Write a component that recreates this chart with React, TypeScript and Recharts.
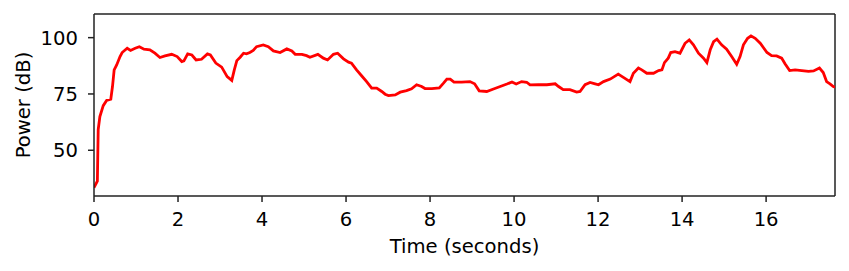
import React from 'react';
import { LineChart, Line, XAxis, YAxis, ReferenceLine } from 'recharts';

const times = [
  0, 0.08, 0.1, 0.14, 0.22, 0.3, 0.4, 0.44, 0.48, 0.54, 0.62, 0.67, 0.79, 0.87, 0.98, 1.08, 1.19, 1.33, 1.45, 1.57,
  1.69, 1.85, 1.98, 2.09, 2.14, 2.23, 2.33, 2.43, 2.56, 2.7, 2.77, 2.9, 3.04, 3.17, 3.28, 3.34, 3.4, 3.48, 3.56, 3.63,
  3.71, 3.79, 3.87, 4.03, 4.15, 4.27, 4.43, 4.59, 4.71, 4.79, 4.95, 5.06, 5.14, 5.33, 5.46, 5.56, 5.7, 5.8, 5.94, 6.06,
  6.13, 6.25, 6.37, 6.49, 6.61, 6.73, 6.85, 6.93, 7.01, 7.17, 7.29, 7.44, 7.56, 7.68, 7.8, 7.88, 8.04, 8.22, 8.32, 8.4,
  8.48, 8.57, 8.75, 8.95, 9.06, 9.17, 9.35, 9.51, 9.67, 9.83, 9.95, 10.05, 10.18, 10.3, 10.38, 10.58, 10.78, 10.98, 11.06, 11.17,
  11.33, 11.49, 11.57, 11.69, 11.81, 11.93, 12.01, 12.13, 12.29, 12.48, 12.63, 12.76, 12.84, 12.96, 13.04, 13.16, 13.32, 13.44, 13.52, 13.58,
  13.67, 13.73, 13.83, 13.95, 14.07, 14.17, 14.27, 14.39, 14.51, 14.59, 14.67, 14.75, 14.83, 14.94, 15.06, 15.18, 15.3, 15.38, 15.46, 15.56,
  15.64, 15.74, 15.86, 16.02, 16.13, 16.25, 16.37, 16.45, 16.56, 16.69, 16.85, 17.01, 17.13, 17.27, 17.36, 17.44, 17.52, 17.6, 17.64,
];

const power = [
  33.4, 36.3, 59.2, 65.0, 69.8, 72.1, 72.7, 78.3, 85.7, 87.9, 91.6, 93.4, 95.3, 94.3, 95.3, 96.0, 94.9, 94.6, 93.1, 91.2,
  91.9, 92.6, 91.6, 89.4, 89.7, 92.8, 92.3, 90.1, 90.4, 92.8, 92.3, 88.7, 86.9, 82.7, 81.0, 85.7, 89.8, 91.3, 93.1, 92.8,
  93.4, 94.3, 96.0, 96.8, 96.0, 94.1, 93.4, 95.0, 94.1, 92.6, 92.6, 92.0, 91.3, 92.6, 90.9, 90.1, 92.6, 93.1, 90.6, 89.1,
  88.7, 85.7, 83.1, 80.5, 77.6, 77.6, 76.1, 74.9, 74.3, 74.6, 75.8, 76.5, 77.3, 79.1, 78.3, 77.4, 77.4, 77.7, 79.8, 81.6,
  81.6, 80.3, 80.3, 80.5, 79.5, 76.4, 76.1, 77.2, 78.3, 79.4, 80.3, 79.4, 80.5, 80.2, 79.0, 79.1, 79.1, 79.5, 78.3, 76.9,
  76.9, 75.8, 76.1, 79.1, 80.1, 79.5, 79.1, 80.5, 81.6, 83.8, 82.0, 80.5, 84.2, 86.5, 85.7, 84.2, 84.2, 85.4, 85.7, 88.9,
  90.9, 93.4, 93.8, 93.1, 97.5, 99.0, 96.8, 93.1, 90.9, 88.9, 94.6, 98.2, 99.3, 96.8, 94.9, 91.6, 88.2, 91.6, 96.8, 99.7,
  100.8, 99.7, 97.5, 93.4, 92.0, 91.9, 90.9, 88.4, 85.4, 85.7, 85.4, 85.0, 85.2, 86.5, 84.5, 80.5, 79.5, 78.3, 78.0,
];

const xTicks = [0, 2, 4, 6, 8, 10, 12, 14, 16];
const yTicks = [50, 75, 100];
const xDomain = [0, 17.64];
const yDomain = [29.7, 110.5];

const data = times.map((t, i) => ({ t, p: power[i] }));

const font = { fontFamily: 'DejaVu Sans', fontSize: 19.6, fill: '#000' };
const spine = '#222';
const axisLine = { stroke: spine, strokeWidth: 1.5 };

export default function App() {
  return (
    <div style={{ position: 'absolute', left: 0, top: 0, width: 849, height: 271, background: '#fff' }}>
      <LineChart width={849} height={271} data={data} margin={{ top: 14, right: 14, left: 0, bottom: 0 }}>
        <XAxis
          dataKey="t"
          type="number"
          domain={xDomain}
          ticks={xTicks}
          allowDataOverflow
          height={75}
          tickSize={6}
          tickMargin={10}
          axisLine={axisLine}
          tickLine={{ stroke: spine, strokeWidth: 1.5 }}
          tick={font}
          label={{ value: 'Time (seconds)', position: 'insideBottom', offset: 18, style: { ...font } }}
        />
        <YAxis
          type="number"
          domain={yDomain}
          ticks={yTicks}
          allowDataOverflow
          width={94}
          tickSize={6}
          tickMargin={10}
          axisLine={axisLine}
          tickLine={{ stroke: spine, strokeWidth: 1.5 }}
          tick={font}
          label={{ value: 'Power (dB)', angle: -90, position: 'insideLeft', offset: 23, style: { ...font, textAnchor: 'middle' } }}
        />
        <ReferenceLine y={yDomain[1]} stroke={spine} strokeWidth={1.5} />
        <ReferenceLine x={xDomain[1]} stroke={spine} strokeWidth={1.5} />
        <Line
          type="linear"
          dataKey="p"
          stroke="#ff0000"
          strokeWidth={2.8}
          dot={false}
          isAnimationActive={false}
        />
      </LineChart>
    </div>
  );
}
